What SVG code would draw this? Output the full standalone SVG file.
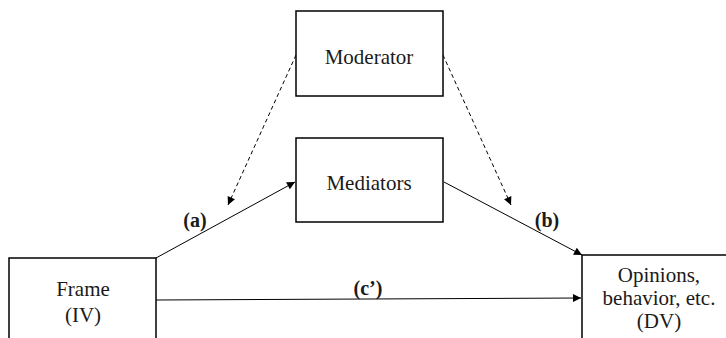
<svg xmlns="http://www.w3.org/2000/svg" width="726" height="338" viewBox="0 0 726 338">
<style>
.box{fill:#fff;stroke:#000;stroke-width:1.5}
.t{font-family:'Liberation Serif',serif;font-size:21px;fill:#1a1a1a;text-anchor:middle}
.lb{font-family:'Liberation Serif',serif;font-size:20px;font-weight:bold;fill:#1a1a1a;text-anchor:middle}
.c{stroke:#000;stroke-width:1;fill:none}
.d{stroke:#000;stroke-width:1;fill:none;stroke-dasharray:4,3}
</style>
<defs>
<marker id="ah" viewBox="0 0 10 10" refX="10" refY="5" markerWidth="10" markerHeight="8" markerUnits="userSpaceOnUse" orient="auto">
<path d="M0,0 L10,5 L0,10 z" fill="#000"/>
</marker>
</defs>
<g id="connectors">
<line class="c" x1="156" y1="258" x2="295" y2="182" marker-end="url(#ah)"/>
<line class="c" x1="444" y1="182" x2="582" y2="255" marker-end="url(#ah)"/>
<line class="c" x1="156" y1="300" x2="581" y2="298" marker-end="url(#ah)"/>
<line class="d" x1="296" y1="55" x2="228" y2="205" marker-end="url(#ah)"/>
<line class="d" x1="443" y1="55" x2="511" y2="205" marker-end="url(#ah)"/>
<text class="lb" x="195" y="227">(a)</text>
<text class="lb" x="547" y="227">(b)</text>
<text class="lb" x="368" y="295">(c’)</text>
</g>
<g id="moderator">
<rect class="box" x="296" y="11" width="147" height="85"/>
<text class="t" x="369" y="64">Moderator</text>
</g>
<g id="mediators">
<rect class="box" x="296" y="138" width="147" height="84"/>
<text class="t" x="369" y="190">Mediators</text>
</g>
<g id="frame">
<rect class="box" x="9" y="258" width="147" height="100"/>
<text class="t" x="83" y="296">Frame</text>
<text class="t" x="83" y="322">(IV)</text>
</g>
<g id="dv">
<rect class="box" x="582" y="255" width="160" height="100"/>
<text class="t" x="659" y="282">Opinions,</text>
<text class="t" x="659" y="305">behavior, etc.</text>
<text class="t" x="659" y="328">(DV)</text>
</g>
</svg>
